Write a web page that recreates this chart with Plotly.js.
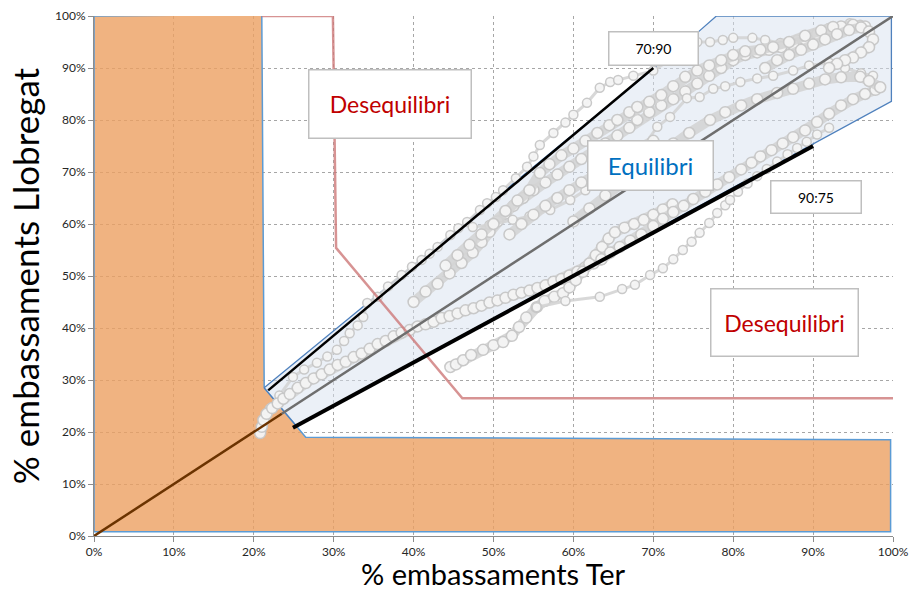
<!DOCTYPE html>
<html>
<head>
<meta charset="utf-8">
<script src="https://cdn.plot.ly/plotly-3.0.1.min.js"></script>
<style>html,body{margin:0;padding:0;background:#fff;}#chart{width:912px;height:593px;}</style>
</head>
<body>
<div id="chart"></div>
<script>
// ---- Zones (percent values) ----
const orangeX = [0, 0, 21, 21.3, 26.5, 99.7, 99.7, 0];
const orangeY = [0.8, 100, 100.3, 28.5, 19, 18.5, 0.8, 0.8];
const bandX = [21.3, 25.3, 99.8, 99.8, 77.9, 75.6, 21.3];
const bandY = [28.5, 21.2, 83.6, 100, 100, 96.9, 28.5];
const redX = [21, 29.9, 30.3, 46.1, 100];
const redY = [100, 100, 55.4, 26.5, 26.5];
const diagX = [23.5, 100];
const diagY = [23.5, 100];
const brownX = [0, 23.5];
const brownY = [0, 23.5];
const line7090X = [21.8, 70];
const line7090Y = [28.0, 90];
const line9075X = [24.9, 90];
const line9075Y = [20.8, 75];

// ---- Historical trajectories (Ter %, Llobregat %) ----
const traj1 = [[22,24.5],[23.2,27],[24.9,30.6],[26.3,32],[27.9,33.3],[29.2,34.5],[30.4,35.8],[31.3,37.5],[32,39],[33,40.5],[33.7,42.1],[34.2,44.8],[35.5,46],[36.8,48],[38.5,50.2],[39.8,51.8],[41,53.1],[42,54.3],[43,55.6],[44.6,57.9],[45.6,59.2],[46.7,60.4],[48.3,62.7],[49.2,64],[50.3,65.2],[51.2,66.5],[52.8,68.8],[54.2,71],[55,73],[55.8,75.2],[57.5,77.5],[59,79.5],[60,81],[61.7,83.3],[63.3,86.2],[64.6,87.3],[65.6,87.7],[67.5,88.5],[70,89.5],[72,91.5],[74.2,94.8],[75.5,95],[77.1,95],[78.7,95.4],[80,95.8],[82.4,95.8],[84,95.4],[85.9,94.8],[88,95.5],[90,96.5],[92.5,97.9],[94.6,98.6],[95.9,98.3]];
const traj2 = [[20.8,19.8],[21,21],[21.2,22.3],[21.6,23.5],[22.3,24.6],[23,25.5],[23.7,26.4],[24.5,27.3],[25.5,28.5],[26.5,29.4],[27.5,30.3],[28.5,31.1],[29.5,32],[30.5,32.9],[31.5,33.5],[32.5,34.4],[33.5,35.1],[34.5,36],[35.5,36.9],[36.5,37.5],[37.5,38.4],[38.5,39.1],[39.5,39.6],[40.5,40.3],[41.5,40.7],[42.5,41.2],[43.5,41.9],[44.5,42.3],[45.5,42.8],[46.5,43.4],[47.5,43.8],[48.5,44.3],[49.5,44.9],[50.5,45.3],[51.5,45.8],[52.5,46.4],[53.5,46.8],[54.5,47.2],[55.5,47.7],[56.5,48.2],[57.5,48.9],[58.5,49.4],[59.5,50.1],[60.5,50.8],[61.5,51.7],[62.5,52.4],[63.5,53.2]];
const traj3 = [[44.6,32.5],[45.3,33],[46.2,33.8],[47.2,34.8],[48.7,35.8],[50,36.7],[51.2,37.3],[52.3,38.5],[53.2,40.2],[54.1,42],[55.4,44],[56.4,45.2],[57.6,46],[58.7,46.7],[59.5,47.8],[60.3,49.2],[61.2,50.8],[62,52.4],[62.8,54],[63.6,55.6],[64.4,57.2],[65.2,58.4],[66.4,59.3],[67.6,60],[68.8,60.8],[70,61.8],[71.2,62.8],[72.4,63.8]];
const traj4 = [[55.4,44],[59,45.2],[63.3,46],[66.1,47.5],[67.7,48.3],[69.6,50.2],[71.2,51.5],[72.5,53.2],[73.7,55],[74.8,56.6],[75.8,58.3],[77,60.2],[78,62.1],[79,63.6],[79.6,64.6],[80.6,66.2],[81.8,67.8],[83,69.2],[84.2,70.6],[85.5,72],[86.8,73.4],[88,74.6],[89.2,75.8],[90.5,77.2],[92,78.5]];
const traj5 = [[40,45],[41.5,47],[43,48.5],[44.5,50.5],[46,52.5],[47.4,54.5],[48.5,56.5],[49.5,58.5],[50.5,60.5],[51.5,62],[52.5,63.5],[53.7,65],[55,66.5],[56.5,68],[58,69.5],[59.5,71],[61,72.5],[62.5,74],[64,75.5],[65.5,77],[67,78.5],[68,80],[69.5,81.5],[71,82.8],[72.5,84],[74,85.5],[75.5,87],[77,88.5],[78.5,90],[80,91.5],[81.5,92.5],[83,93],[84.5,93.5],[86,94],[87.5,94.5],[89,95.5],[90.5,96.5],[92,97.5],[93.5,98],[95,98.3],[96.5,98]];
const traj6 = [[47.4,59.4],[49.5,59.8],[52.4,60.8],[54.5,61.5],[57.1,62.7],[59.6,64.6],[61.5,66.5],[63,68.5],[65,70.5],[67,72.5],[68.8,75],[70.5,78.7],[72.1,80.6],[74.2,84.2],[75.8,84.4],[77.5,86],[79,86.5],[80.9,87.3],[83,88],[85,88.5],[87.5,89.5],[89.5,90.5],[92,91],[94,90],[96,89],[97.5,88.5]];
const traj7 = [[63.5,53.2],[64.6,54.5],[65.8,55.6],[67.1,56.8],[68.5,58],[70,59.6],[71.2,61],[72.5,62.3],[73.8,63.5],[75,64.8],[76.5,66.2],[78,67.6],[79.5,69],[81,70.5],[82.3,71.8],[83.4,73],[84.8,74.2],[86.2,75.5],[87.5,76.7],[89,78],[90.5,79.6],[92,81.2],[93.5,82.8],[95,84],[96.5,85],[97.8,85.8]];
const traj8 = [[60,60.5],[62,63],[64,65.5],[66,68],[68.7,71],[70.5,73],[72.5,75.5],[74.5,77.5],[77.1,80],[79,81.5],[81,82.8],[83,84],[85.5,85.2],[87.5,86],[89.5,87],[91.5,87.8],[93.5,88.2],[95.9,88.3],[97,87.5],[98.4,86.3]];
const traj9 = [[44,52],[45.5,54],[47,56],[48.5,58],[50,60],[51.5,62.5],[53,64.5],[54.5,66.5],[55.8,69.8],[57,71.5],[58.5,73.2],[60,74.5],[61.5,76],[63,77.5],[64.5,79],[65.5,80],[67,81.5],[68,82.5],[69.5,83.5],[71,84.8],[72.5,86.5],[74,88.3],[75.5,89.5],[77,90.5],[78.5,91.5],[80,92.5],[81.5,93.2],[83.4,93.5],[85,94],[87,95],[89,96.2],[91,97.2],[92.5,97.9]];
const traj10 = [[84,90],[85.5,91.5],[87,92.5],[88.5,93.5],[90,94.5],[91.5,95.5],[93,96.5],[94.5,97.3],[96,97.8],[97,97],[97.5,95.5],[97,94],[96,93],[95,92],[94,91.5],[93,90.8],[92,90]];
const traj11 = [[52,58],[53.5,60],[55,61.8],[56.5,63.5],[58,65],[59.5,66.5],[61,68],[62.5,69.5],[64,71],[65.5,72.3],[67,73.5],[68.5,74.8],[70,76]];
const trajectories = [traj1, traj2, traj3, traj4, traj5, traj6, traj7, traj8, traj9, traj10, traj11];
const trajDense = [false, true, true, false, true, false, true, true, true, true, true];

// ---- Axis ticks and labels ----
const tickVals = [0,10,20,30,40,50,60,70,80,90,100];
const tickText = ['0%','10%','20%','30%','40%','50%','60%','70%','80%','90%','100%'];
const xTitle = '% embassaments Ter';
const yTitle = '% embassaments Llobregat';
const labels = [
  {text:'Desequilibri', x:37.05, y:83.1, color:'#c00000', size:23, w:159, h:65},
  {text:'70:90', x:70.0, y:93.7, color:'#000000', size:14, w:86, h:30},
  {text:'Equilibri', x:69.6, y:71.3, color:'#0070c0', size:24, w:122, h:46},
  {text:'90:75', x:90.4, y:65.2, color:'#000000', size:14, w:87, h:29},
  {text:'Desequilibri', x:86.4, y:41.0, color:'#c00000', size:23, w:144, h:64}
];

const traces = [];
traces.push({x:orangeX, y:orangeY, mode:'lines', fill:'toself', fillcolor:'rgba(236,160,98,0.8)', line:{color:'#5b9bd5', width:1.5}, hoverinfo:'skip'});
traces.push({x:bandX, y:bandY, mode:'lines', fill:'toself', fillcolor:'rgba(215,226,240,0.5)', line:{color:'#4f81bd', width:1.3}, hoverinfo:'skip'});
trajectories.forEach((t, i) => {
  const dense = trajDense[i];
  traces.push({x:t.map(p=>p[0]), y:t.map(p=>p[1]), mode:'lines+markers',
    line:{color:'rgba(212,212,212,0.9)', width: dense ? 10 : 3},
    marker:{symbol:'circle', size: dense ? 11 : 9, color:'rgba(244,244,244,0.95)', line:{color:'rgba(198,198,198,0.95)', width:1.5}},
    hoverinfo:'skip'});
});
traces.push({x:redX, y:redY, mode:'lines', line:{color:'rgba(205,120,120,0.8)', width:2.5}, hoverinfo:'skip'});
traces.push({x:diagX, y:diagY, mode:'lines', line:{color:'#6e6e6e', width:2.5}, hoverinfo:'skip'});
traces.push({x:brownX, y:brownY, mode:'lines', line:{color:'#6b3300', width:2.5}, hoverinfo:'skip'});
traces.push({x:line7090X, y:line7090Y, mode:'lines', line:{color:'#000000', width:2.5}, hoverinfo:'skip'});
traces.push({x:line9075X, y:line9075Y, mode:'lines', line:{color:'#000000', width:4}, hoverinfo:'skip'});

const font = 'Lato, "Noto Sans", sans-serif';
const axisCommon = {range:[0,100], tickmode:'array', tickvals:tickVals, ticktext:tickText, showgrid:true,
    gridcolor:'#a6a6a6', griddash:'dot', gridwidth:1, zeroline:false,
    showline:true, linecolor:'#8c8c8c', linewidth:1, ticks:'outside', ticklen:5, tickcolor:'#8c8c8c',
    tickfont:{family:font, size:12, color:'#262626'}};
const annots = labels.map(l => ({x:l.x, y:l.y, xref:'x', yref:'y', text:l.text, showarrow:false,
    font:{family:font, size:l.size, color:l.color}, bgcolor:'#ffffff', bordercolor:'#bfbfbf',
    borderwidth:1.5, borderpad:1, width:l.w, height:l.h, align:'center', valign:'middle'}));
annots.push({x:0.5, y:-0.1077, xref:'paper', yref:'paper', text:xTitle, showarrow:false,
    xanchor:'center', yanchor:'bottom', borderpad:0, font:{family:font, size:29, color:'#000000'}});
const layout = {
  width:912, height:593,
  margin:{l:94, r:19, t:16, b:57},
  paper_bgcolor:'#ffffff', plot_bgcolor:'#ffffff',
  showlegend:false,
  font:{family:font, color:'#333333'},
  xaxis:axisCommon,
  yaxis:Object.assign({}, axisCommon, {title:{text:yTitle, font:{family:font, size:35, color:'#000000'}, standoff:4}}),
  annotations: annots
};
Plotly.newPlot('chart', traces, layout, {staticPlot:true, displayModeBar:false});
</script>
</body>
</html>
